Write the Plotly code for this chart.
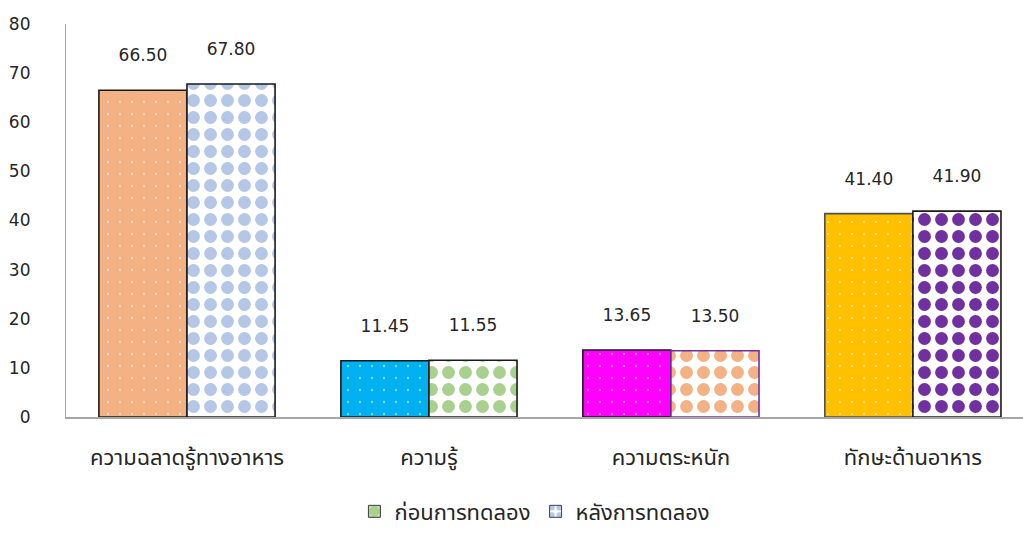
import plotly.graph_objects as go

categories = ["ความฉลาดรู้ทางอาหาร", "ความรู้", "ความตระหนัก", "ทักษะด้านอาหาร"]
series_names = ["ก่อนการทดลอง", "หลังการทดลอง"]
before_values = [66.50, 11.45, 13.65, 41.40]
after_values = [67.80, 11.55, 13.50, 41.90]
y_ticks = [0, 10, 20, 30, 40, 50, 60, 70, 80]

# per-bar fills: solid colours with white dots before, coloured diamonds on white after
before_colors = ["#F4B183", "#00B0F0", "#FF00FF", "#FFC000"]
before_lines = ["#1a1a1a", "#1a1a1a", "#1a1a1a", "#505050"]
after_colors = ["#B4C7E7", "#A9D18E", "#F4B183", "#7030A0"]
after_lines = ["#1a1a1a", "#1a1a1a", "#7030A0", "#1a1a1a"]

FONT = "Tahoma, 'DejaVu Sans', 'Noto Sans Thai', 'Noto Sans', sans-serif"
TXT = "#262626"
LABEL_FONT = dict(family=FONT, size=17, color=TXT)

fig = go.Figure()

# one trace per bar so each gets its own scalar fill and pattern colour
for cat, val, col, ln in zip(categories, before_values, before_colors, before_lines):
    fig.add_trace(go.Bar(
        x=[cat], y=[val], name=series_names[0], offsetgroup="before",
        showlegend=False,
        marker=dict(color=col, line=dict(color=ln, width=1.6),
                    pattern=dict(shape=".", fillmode="overlay",
                                 fgcolor="white", size=12, solidity=0.03)),
        texttemplate="%{y:.2f}<br> ", textposition="outside", cliponaxis=False,
        textfont=LABEL_FONT,
    ))

for cat, val, col, ln in zip(categories, after_values, after_colors, after_lines):
    fig.add_trace(go.Bar(
        x=[cat], y=[val], name=series_names[1], offsetgroup="after",
        showlegend=False,
        marker=dict(color="white", line=dict(color=ln, width=1.6),
                    pattern=dict(shape=".", fillmode="replace", bgcolor="white",
                                 fgcolor=col, size=17, solidity=0.45)),
        texttemplate="%{y:.2f}<br> ", textposition="outside", cliponaxis=False,
        textfont=LABEL_FONT,
    ))

# legend entries
fig.add_trace(go.Bar(
    x=[categories[0]], y=[None], name=series_names[0], offsetgroup="before",
    marker=dict(color="#A9D18E", line=dict(color="#404040", width=1),
                pattern=dict(shape=".", fillmode="overlay",
                             fgcolor="white", size=10, solidity=0.05)),
))
fig.add_trace(go.Bar(
    x=[categories[0]], y=[None], name=series_names[1], offsetgroup="after",
    marker=dict(color="white", line=dict(color="#404040", width=1),
                pattern=dict(shape=".", fillmode="replace", bgcolor="white",
                             fgcolor="#B4C7E7", size=12, solidity=0.5)),
))

fig.update_layout(
    width=1023, height=533,
    margin=dict(l=66, r=0, t=24, b=116, autoexpand=False),
    paper_bgcolor="white", plot_bgcolor="white",
    barmode="group", bargap=0.272, bargroupgap=0,
    font=dict(family=FONT, size=18, color=TXT),
    legend=dict(orientation="h", x=0.49, xanchor="center", y=-0.294, yanchor="bottom",
                font=dict(family=FONT, size=22, color=TXT), itemwidth=30),
    showlegend=True,
)

fig.update_xaxes(
    type="category", range=[-0.5, 3.455], automargin=False,
    showline=True, linecolor="#A6A6A6", linewidth=1.5,
    showgrid=False, ticks="", ticklabelstandoff=20,
    tickfont=dict(family=FONT, size=22, color=TXT),
)
fig.update_yaxes(
    range=[0, 80], tickvals=y_ticks, automargin=False,
    showline=True, linecolor="#A6A6A6", linewidth=1.2,
    showgrid=False, zeroline=False, ticks="", ticklabelstandoff=31,
    tickfont=dict(family=FONT, size=17, color=TXT),
)

fig.write_html("out.html")
